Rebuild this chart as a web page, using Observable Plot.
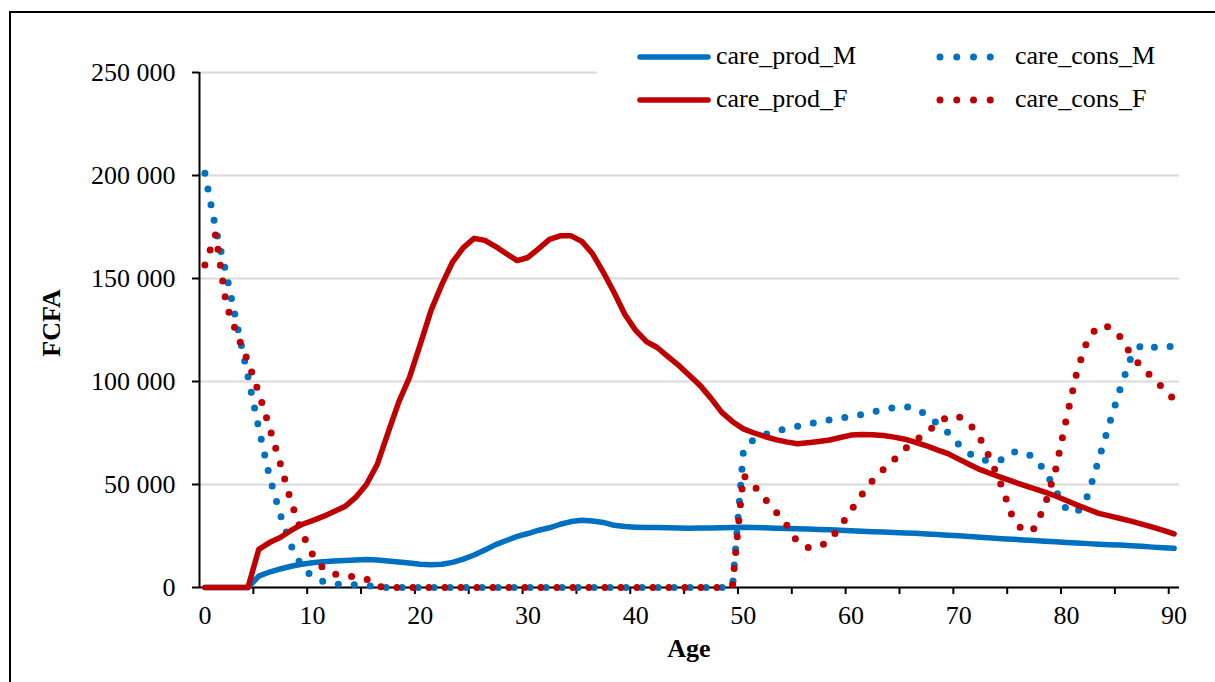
<!DOCTYPE html>
<html>
<head>
<meta charset="utf-8">
<script src="https://cdn.jsdelivr.net/npm/d3@7"></script>
<script src="https://cdn.jsdelivr.net/npm/@observablehq/plot@0.6"></script>
<style>
  html, body { margin: 0; padding: 0; background: #fff; }
  body { width: 1215px; height: 682px; overflow: hidden; position: relative;
         font-family: "Liberation Serif", "Times New Roman", serif; color: #000; }
  #chart svg, #chart svg text { font-family: "Liberation Serif", "Times New Roman", serif !important; }
  #frame { position: absolute; left: 9px; top: 11px; width: 1230px; height: 700px;
           border: 2px solid #000; box-sizing: border-box; }
  #chart { position: absolute; left: 0; top: 0; }
  #legend { position: absolute; left: 597px; top: 34px; width: 590px; height: 88px; background: #fff; }
  .lg { position: absolute; font-size: 26px; line-height: 30px; white-space: nowrap; }
  .ylab { position: absolute; left: 52px; top: 323px; font-size: 26px; font-weight: bold;
          transform: translate(-50%, -50%) rotate(-90deg); white-space: nowrap; }
  .xlab { position: absolute; left: 689px; top: 649px; font-size: 26px; font-weight: bold;
          transform: translate(-50%, -50%); white-space: nowrap; }
</style>
</head>
<body>
<div id="frame"></div>
<div id="chart"></div>
<div class="ylab">FCFA</div>
<div class="xlab">Age</div>
<div id="legend"></div>
<script>
// ---- data ----
const ages = [0,1,2,3,4,5,6,7,8,9,10,11,12,13,14,15,16,17,18,19,20,21,22,23,24,25,26,27,28,29,30,
  31,32,33,34,35,36,37,38,39,40,41,42,43,44,45,46,47,48,49,50,51,52,53,54,55,56,57,58,59,60,
  61,62,63,64,65,66,67,68,69,70,71,72,73,74,75,76,77,78,79,80,81,82,83,84,85,86,87,88,89,90];

const careProdM = [0,0,0,0,0, 5500,7500,9000,10300,11300, 12000,12500,12900,13100,13300,
  13600,13400,12900,12400,11900, 11300,11100,11300,12200,13800, 15800,18200,20800,22800,24800,
  26200,27800,29000,30700,32000, 32600,32300,31600,30200,29600, 29300,29100,29100,29000,28900,
  28800,28900,28900,29000,29100, 29200,29100,29000,28800,28700, 28500,28400,28200,28000,27800,
  27500,27300,27100,26900,26700, 26500,26300,26000,25700,25400, 25100,24800,24400,24000,23700,
  23400,23100,22800,22500,22200, 21900,21600,21300,21000,20800, 20600,20300,20000,19600,19300, 19000];

const careProdF = [0,0,0,0,0, 18500,21800,24300,27700,30600, 32500,34500,36900,39300,43700,
  50000,59700,75000,90000,102000, 118000,134500,147000,158000,165000, 169500,168500,165500,162000,158700,
  160200,164500,169000,170700,170700, 168000,162000,153000,143200,132500, 124800,119400,116500,112100,107800,
  102900,98000,91800,85000,80500, 77000,75000,73300,71800,70700, 69800,70300,70900,71600,72800,
  74000,74300,74200,73800,73000, 72000,70500,68800,66800,65000, 62300,59700,57200,55200,53300,
  51500,49700,48000,46300,44400, 42200,40000,38000,36000,34800, 33500,32200,30800,29300,27700, 26000];

const careConsM = [201100,174300,151900,127200,102400, 77400,53900,35400,20400,10200,
  5100,2900,1700,1300,1300, 1000,150,0,0,0, 0,0,0,0,0, 0,0,0,0,0,
  0,0,0,0,0, 0,0,0,0,0, 0,0,0,0,0, 0,0,0,0,500,
  66000,72300,74300,75700,77200, 78200,79400,80300,81300,82100,
  83000,84000,85200,86400,87400, 88000,86700,84000,79600,75200,
  69400,65000,62400,61200,62100, 65800,65800,63100,56800,47100,
  37900,36400,44700,62100,79600, 96600,111700,118000,116700,116000, 117500];

const careConsF = [156500,171500,137000,122800,109700, 94700,77700,60200,41700,26700,
  16000,9200,6600,5800,5100, 4100,500,0,0,0, 0,0,0,0,0, 0,0,0,0,0,
  0,0,0,0,0, 0,0,0,0,0, 0,0,0,0,0, 0,0,0,0,1500,
  54500,49300,43000,36900,30600, 22300,19400,19700,22800,29600,
  37400,45100,51900,57300,62100, 67200,71400,75200,79600,83000,
  83000,79600,72300,61700,49000, 34000,27200,28600,39800,57300,
  82000,105300,120900,127000,126500, 121600,113100,106800,101900,96600, 91300];

const yTicks = [0, 50000, 100000, 150000, 200000, 250000];
const xLabels = [0, 10, 20, 30, 40, 50, 60, 70, 80, 90];
const xTickMarks = [4.5, 9.5, 14.5, 19.5, 24.5, 29.5, 34.5, 39.5, 44.5, 49.5, 54.5, 59.5,
  64.5, 69.5, 74.5, 79.5, 84.5, 89.5];

const seriesNames = ["care_prod_M", "care_cons_M", "care_prod_F", "care_cons_F"];
const blue = "#0070C0", red = "#C00000";

// ---- chart ----
const fmt = v => d3.format(",")(v).replace(/,/g, "\u00a0");
const solid = {strokeWidth: 5.5, strokeLinejoin: "round", strokeLinecap: "round"};
const dotted = {strokeWidth: 7, strokeLinecap: "round", strokeDasharray: "0 16"};

const chart = Plot.plot({
  width: 1215, height: 682,
  marginLeft: 199, marginRight: 36, marginTop: 72, marginBottom: 95,
  style: {fontSize: "26px", color: "#000", background: "transparent", overflow: "visible"},
  x: {domain: [-0.5, 90.5]},
  y: {domain: [0, 250000]},
  marks: [
    Plot.gridY(yTicks, {stroke: "#d9d9d9", strokeOpacity: 1, strokeWidth: 2}),
    Plot.ruleX([-0.5], {stroke: "#000", strokeWidth: 2}),
    Plot.ruleY([0], {stroke: "#000", strokeWidth: 2}),
    Plot.axisY(yTicks, {tickSize: 7, tickPadding: 17, tickFormat: fmt, label: null, strokeWidth: 2, fontSize: 26}),
    Plot.axisX(xTickMarks, {tickSize: 7, tickFormat: () => "", label: null, strokeWidth: 2}),
    Plot.axisX(xLabels, {tickSize: 0, tickPadding: 18, label: null, fontSize: 26}),
    Plot.line(ages, {x: d => d, y: careProdM, stroke: blue, ...solid}),
    Plot.line(ages, {x: d => d, y: careConsM, stroke: blue, ...dotted}),
    Plot.line(ages, {x: d => d, y: careProdF, stroke: red, ...solid}),
    Plot.line(ages, {x: d => d, y: careConsF, stroke: red, ...dotted})
  ]
});
document.getElementById("chart").appendChild(chart);

// ---- legend ----
const legend = document.getElementById("legend");
const lx = 597, ly = 34;
const items = [
  {name: seriesNames[0], color: blue, dot: false, x: 640, y: 57},
  {name: seriesNames[1], color: blue, dot: true,  x: 940, y: 57},
  {name: seriesNames[2], color: red,  dot: false, x: 640, y: 100},
  {name: seriesNames[3], color: red,  dot: true,  x: 940, y: 100}
];
const ns = "http://www.w3.org/2000/svg";
const sw = document.createElementNS(ns, "svg");
sw.setAttribute("width", 590); sw.setAttribute("height", 88);
sw.style.position = "absolute"; sw.style.left = "0"; sw.style.top = "0";
legend.appendChild(sw);
for (const it of items) {
  const line = document.createElementNS(ns, "line");
  const x1 = it.x - lx, y = it.y - ly;
  const x2 = it.dot ? x1 + 67 : x1 + 68;
  line.setAttribute("x1", x1); line.setAttribute("x2", x2);
  line.setAttribute("y1", y); line.setAttribute("y2", y);
  line.setAttribute("stroke", it.color);
  line.setAttribute("stroke-linecap", "round");
  if (it.dot) { line.setAttribute("stroke-width", 7); line.setAttribute("stroke-dasharray", "0 16.75"); }
  else { line.setAttribute("stroke-width", 5.5); }
  sw.appendChild(line);
  const t = document.createElement("div");
  t.className = "lg";
  t.textContent = it.name;
  t.style.left = (it.dot ? 1015 - lx : 716 - lx) + "px";
  t.style.top = (y - 16) + "px";
  legend.appendChild(t);
}
</script>
</body>
</html>
